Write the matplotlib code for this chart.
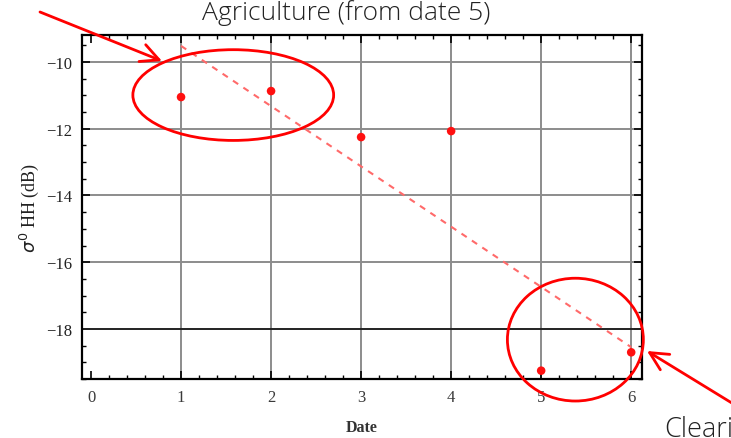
import numpy as np
import matplotlib
matplotlib.use("Agg")
import matplotlib.pyplot as plt
from matplotlib.patches import Ellipse, FancyArrowPatch

dates = [1, 2, 3, 4, 5, 6]
sigma_hh = [-11.05, -10.87, -12.25, -12.07, -19.25, -18.7]
x_ticks = [0, 1, 2, 3, 4, 5, 6]
y_ticks = [-10, -12, -14, -16, -18]
threshold = -18

W, H = 731, 439
fig = plt.figure(figsize=(W / 100, H / 100), dpi=100)
ax = fig.add_axes([82 / W, 1 - 380 / H, (642 - 82) / W, (380 - 36) / H])

ax.set_xlim(-0.1, 6.12)
ax.set_ylim(-19.5, -9.19)

serif = "Liberation Serif"
# grid
for xv in x_ticks[1:]:
    ax.axvline(xv, color="#8c8c8c", lw=1.4, zorder=1)
for yv in y_ticks:
    if yv != threshold:
        ax.axhline(yv, color="#8c8c8c", lw=1.4, zorder=1)
ax.axhline(threshold, color="#222222", lw=1.4, zorder=2)

# fit line
coef = np.polyfit(dates, sigma_hh, 1)
xf = np.array([dates[0], dates[-1]])
ax.plot(xf, np.polyval(coef, xf), ls=(0, (3, 3)), color="#ff6a6a", lw=1.5, zorder=3)

ax.scatter(dates, sigma_hh, s=38, color="#ff1010", zorder=4, edgecolors="none")

ax.set_xticks(x_ticks)
ax.set_yticks(y_ticks)
ax.set_xticks(np.arange(0, 6.01, 0.2), minor=True)
ax.set_yticks(np.arange(-19.5, -9.2, 0.5), minor=True)
ax.tick_params(which="both", direction="in", top=True, right=True, color="black")
ax.tick_params(which="major", length=6, width=1.2, labelsize=12)
ax.tick_params(which="minor", length=3, width=1.0)
ax.tick_params(axis="x", pad=7)
ax.tick_params(axis="y", pad=7)
ax.set_xticklabels([str(v) for v in x_ticks], family=serif, color="#3a3a3a")
ax.set_yticklabels(["\u2212%d" % abs(v) for v in y_ticks], family=serif, color="#222222")
for s in ax.spines.values():
    s.set_linewidth(1.6)

ax.set_xlabel("Date", family=serif, fontsize=11.5, fontweight="bold", color="#333333", labelpad=10)
ax.set_ylabel(r"$\sigma^0$ HH (dB)", family=serif, fontsize=13, color="#222222", labelpad=4)

# annotations (data coordinates)
e1 = Ellipse((1.58, -10.99), 2.23, 2.72, fill=False, edgecolor="red", lw=2, clip_on=False, zorder=5)
e2 = Ellipse((5.38, -18.32), 1.51, 3.68, fill=False, edgecolor="red", lw=2, clip_on=False, zorder=5)
ax.add_patch(e1)
ax.add_patch(e2)

tr = fig.transFigure
def px(x, y):
    return (x / W, 1 - y / H)

style = "->,head_length=13,head_width=6.5"
a1 = FancyArrowPatch(px(40, 13), px(162, 62), transform=tr, arrowstyle=style,
                     color="red", lw=2, mutation_scale=1, clip_on=False, shrinkA=0, shrinkB=0)
a2 = FancyArrowPatch(px(740, 409), px(647, 352), transform=tr, arrowstyle=style,
                     color="red", lw=2, mutation_scale=1, clip_on=False, shrinkA=0, shrinkB=0)
fig.patches.extend([a1, a2])

fig.text(346 / W, 1 - 20 / H, "Agriculture (from date 5)", family="Open Sans", fontsize=19,
         fontweight="light", ha="center", va="baseline", color="#222222")
fig.text(664 / W, 1 - 437 / H, "Clearing", family="Open Sans", fontsize=19.5,
         fontweight="light", ha="left", va="baseline", color="#222222")

fig.savefig("out.png", dpi=100)
